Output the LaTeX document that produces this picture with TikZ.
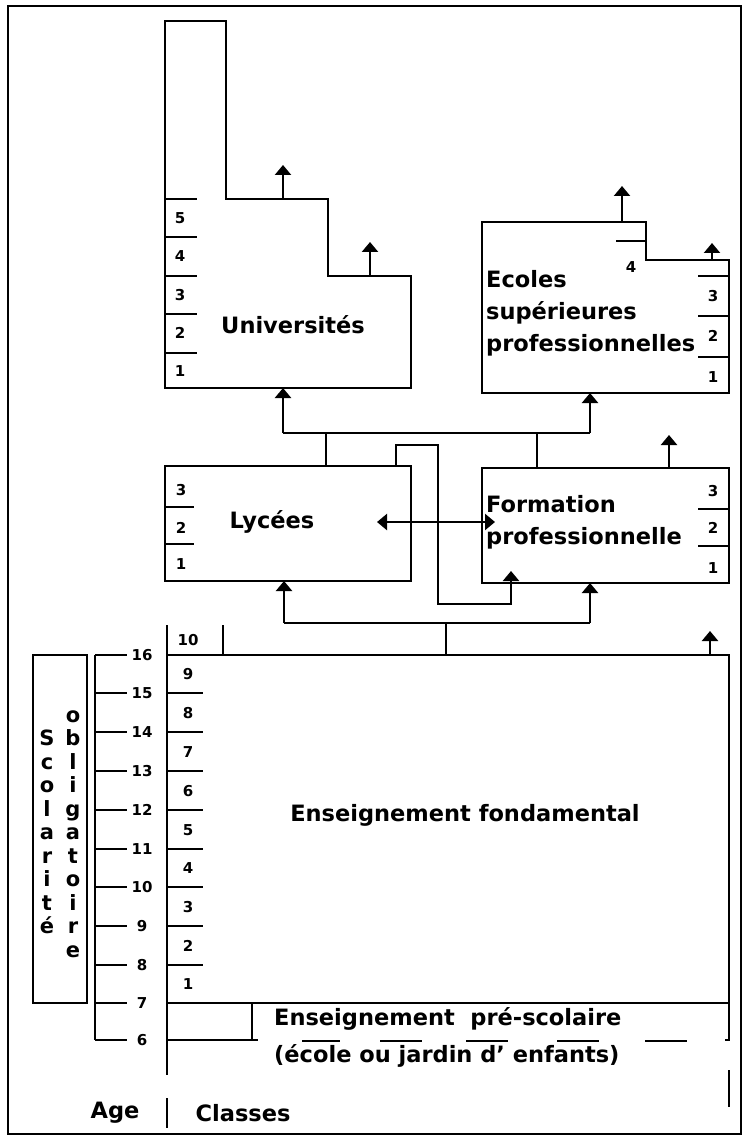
\documentclass[tikz,border=0pt]{standalone}
\usepackage{fontspec}
\setmainfont{DejaVu Sans}
\usetikzlibrary{arrows.meta}

\tikzset{
    ln/.style = {line width=2.3pt},
    up/.style = {line width=2.3pt, -{Triangle[width=16pt,length=10pt]}},
    both/.style = {line width=2.3pt, {Triangle[width=16pt,length=10pt]}-{Triangle[width=16pt,length=10pt]}},
    num/.style = {inner sep=0pt, font=\bfseries\fontsize{15}{17}\selectfont},
    title/.style = {inner sep=0pt, align=left, font=\bfseries\fontsize{22.5}{32}\selectfont},
    vert/.style = {inner sep=0pt, align=center, font=\bfseries\fontsize{21}{23.5}\selectfont}
}

\begin{document}
\begin{tikzpicture}[x=1pt, y=-1pt]
    \useasboundingbox (0,0) rectangle (747,1139);
    \draw[line width=1.2pt] (8,6) rectangle (741,1134);

    % Universites
    \draw[ln] (165,21) -- (226,21) -- (226,199) -- (328,199) -- (328,276) -- (411,276) -- (411,388) -- (165,388) -- cycle;
    \foreach \y in {199, 237, 276, 314, 353}{
        \draw[ln] (165,\y) -- (197,\y);
    }
    \foreach \i/\y in {5/218, 4/256, 3/295, 2/333, 1/371}{
        \node[num] (univ\i) at (180,\y) {\i};
    }
    \node[title] (univ) at (293,325) {Universités};

    % Ecoles superieures
    \draw[ln] (482,222) -- (646,222) -- (646,260) -- (729,260) -- (729,393) -- (482,393) -- cycle;
    \draw[ln] (616,241) -- (646,241);
    \node[num] (eco4) at (631,267) {4};
    \foreach \y in {276, 316, 357}{
        \draw[ln] (698,\y) -- (729,\y);
    }
    \foreach \i/\y in {3/296, 2/336, 1/377}{
        \node[num] (eco\i) at (713,\y) {\i};
    }
    \node[title, anchor=west] (eco) at (486,313) {Ecoles\\supérieures\\professionnelles};

    % Lycees and formation professionnelle
    \draw[ln] (165,466) rectangle (411,581);
    \foreach \y in {507, 544}{
        \draw[ln] (165,\y) -- (194,\y);
    }
    \foreach \i/\y in {3/490, 2/528, 1/564}{
        \node[num] (lyc\i) at (181,\y) {\i};
    }
    \node[title] (lyc) at (272,522) {Lycées};

    \draw[ln] (482,468) rectangle (729,583);
    \foreach \y in {509, 546}{
        \draw[ln] (698,\y) -- (729,\y);
    }
    \foreach \i/\y in {3/491, 2/528, 1/568}{
        \node[num] (form\i) at (713,\y) {\i};
    }
    \node[title, anchor=west] (form) at (486,522) {Formation\\professionnelle};

    % enseignement fondamental
    \draw[ln] (167,625) -- (167,1075);
    \draw[ln] (223,625) -- (223,655);
    \draw[ln] (167,655) -- (729,655) -- (729,1040) -- (725,1040);
    \draw[ln] (167,1003) -- (729,1003);
    \draw[ln] (252,1003) -- (252,1040);
    \draw[ln] (167,1040) -- (258,1040);
    \foreach \a/\b in {302/340, 380/422, 466/508, 557/599, 645/687}{
        \draw[ln] (\a,1041) -- (\b,1041);
    }
    \draw[ln] (729,1070) -- (729,1107);
    \node[title] (fond) at (465,815) {Enseignement fondamental};
    \node[title, anchor=west, font=\bfseries\fontsize{22.5}{37}\selectfont] (presco) at (274,1037) {Enseignement\ \ pré-scolaire\\(école ou jardin d' enfants)};
    \node[num] (cl10) at (188,640) {10};
    \foreach \g/\y in {9/674, 8/713, 7/752, 6/791, 5/830, 4/868, 3/907, 2/946, 1/984}{
        \node[num] (cl\g) at (188,\y) {\g};
    }

    % ages
    \draw[ln] (95,655) -- (95,1040);
    \foreach \a/\y in {16/655, 15/693, 14/732, 13/771, 12/810, 11/849, 10/887, 9/926, 8/965, 7/1003, 6/1040}{
        \draw[ln] (95,\y) -- (127,\y);
        \node[num] (age\a) at (142,\y) {\a};
    }
    \foreach \y in {693, 732, 771, 810, 849, 887, 926, 965}{
        \draw[ln] (167,\y) -- (203,\y);
    }
    \draw[ln] (33,655) rectangle (87,1003);
    \node[vert] (scol) at (47,832) {S\\c\\o\\l\\a\\r\\i\\t\\é};
    \node[vert] (oblig) at (73,834) {o\\b\\l\\i\\g\\a\\t\\o\\i\\r\\e};
    \draw[ln] (167,1098) -- (167,1128);
    \node[title] (age) at (115,1113) {Age};
    \node[title] (classes) at (243,1113) {Classes};

    % connecting points
    \coordinate (u1) at (283,199);    \coordinate (u1e) at (283,165);
    \coordinate (u2) at (370,276);    \coordinate (u2e) at (370,242);
    \coordinate (e1) at (622,222);    \coordinate (e1e) at (622,186);
    \coordinate (e2) at (712,260);    \coordinate (e2e) at (712,243);
    \coordinate (f1) at (669,468);    \coordinate (f1e) at (669,435);
    \coordinate (b1) at (710,655);    \coordinate (b1e) at (710,631);
    \coordinate (univbot) at (283,388);
    \coordinate (ecobot) at (590,393);
    \coordinate (lyctop) at (326,466);
    \coordinate (formtop) at (537,468);
    \coordinate (jl) at (283,433);
    \coordinate (jr) at (590,433);
    \coordinate (lyccross) at (396,466);
    \coordinate (formin) at (511,571);
    \coordinate (lycr) at (377,522);
    \coordinate (forml) at (495,522);
    \coordinate (fondtop) at (446,655);
    \coordinate (jl2) at (284,623);
    \coordinate (jr2) at (590,623);
    \coordinate (lycbot) at (284,581);
    \coordinate (formbot) at (590,583);

    % arrows
    \foreach \s/\e in {u1/u1e, u2/u2e, e1/e1e, e2/e2e, f1/f1e, b1/b1e, jl/univbot, jr/ecobot, jl2/lycbot, jr2/formbot}{
        \draw[up] (\s) -- (\e);
    }
    \draw[ln] (jl) -- (jr);
    \draw[ln] (lyctop) -- (lyctop |- jl);
    \draw[ln] (formtop) -- (formtop |- jl);
    \draw[up] (lyccross) |- (438,445) |- (511,604) -- (formin);
    \draw[both] (lycr) -- (forml);
    \draw[ln] (jl2) -- (jr2);
    \draw[ln] (fondtop) -- (fondtop |- jl2);
\end{tikzpicture}
\end{document}
